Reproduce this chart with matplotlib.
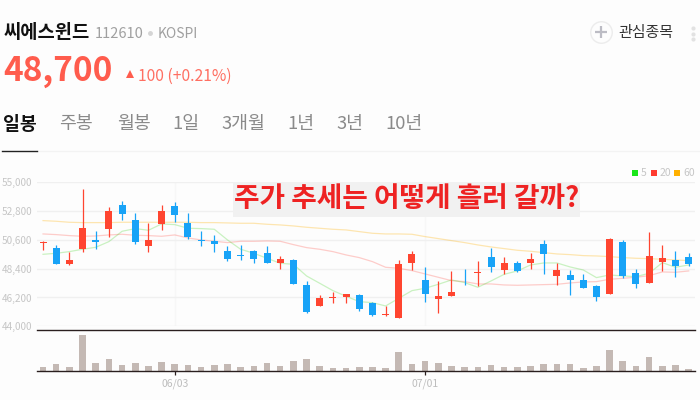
#
# Daily candle chart with moving averages and volume
#
import numpy as np
import matplotlib
matplotlib.use('Agg')
import matplotlib.pyplot as plt

plt.rcParams['font.family'] = ['Noto Sans CJK KR', 'DejaVu Sans']

open_price = [50350, 50000, 48750, 49900, 50600, 51450, 53300, 52100, 50150, 51850,
              53200, 51900, 50600, 50500, 49750, 49450, 49750, 49600, 48850, 49050,
              47150, 45550, 46150, 46250, 46400, 45750, 44850, 44650, 48850, 47550,
              46100, 46300, 47550, 48050, 49300, 48300, 48850, 48850, 50300, 47850,
              47900, 47550, 47050, 46500, 50450, 48100, 47300, 48900, 49100, 49300]
high_price = [50500, 50200, 49700, 54500, 51300, 53100, 53600, 52650, 51900, 53300,
              53500, 52650, 51300, 51000, 50150, 50200, 49850, 50150, 49400, 49150,
              47450, 46400, 46650, 46450, 46450, 45850, 45550, 49050, 49750, 48550,
              47450, 48250, 48400, 48950, 50000, 49300, 49000, 49600, 50600, 48850,
              48300, 48000, 47150, 50750, 50600, 48400, 51200, 50200, 49750, 49600]
low_price = [49800, 48750, 48700, 49650, 49900, 50800, 52100, 50300, 49700, 51350,
             51950, 50700, 50150, 49650, 49000, 49100, 48850, 48850, 48400, 47200,
             45000, 45550, 45750, 45750, 45200, 44800, 44750, 44650, 48300, 45850,
             45000, 46300, 47150, 47100, 48150, 48000, 48150, 48400, 48000, 47150,
             46400, 46950, 45950, 46450, 47700, 46950, 47300, 48250, 47750, 48600]
close_price = [50400, 48750, 49050, 51500, 50450, 52800, 52550, 50450, 50600, 52800,
               52500, 50850, 50500, 50250, 49150, 49350, 49150, 48850, 49150, 47200,
               45100, 46150, 46200, 46450, 45300, 44850, 44900, 48750, 49500, 46450,
               46300, 46600, 47500, 48100, 48500, 48850, 48250, 49150, 49550, 48300,
               47550, 46950, 46250, 50700, 47850, 47250, 49350, 49200, 48600, 48750]

ma5 = [49500, 49578, 49705, 49884, 50036, 50469, 51259, 51463, 51335, 51819,
       51768, 51488, 51463, 51412, 50597, 49884, 49578, 49196, 48814, 48737,
       47846, 47286, 46725, 46292, 45885, 45808, 45554, 46139, 46725, 46904,
       47209, 47540, 47337, 46980, 47464, 47973, 48228, 48686, 48839, 48839,
       48534, 48304, 47719, 47922, 47846, 47795, 48050, 48865, 48508, 48686]
ma20 = [51055, 51004, 50928, 50877, 50902, 50979, 51030, 50953, 50928, 50877,
        50979, 50750, 50597, 50495, 50393, 50495, 50495, 50520, 50495, 50240,
        50011, 49884, 49705, 49451, 49247, 48941, 48508, 48432, 48253, 47999,
        47744, 47489, 47413, 47235, 47235, 47158, 47133, 47158, 47184, 47209,
        47311, 47388, 47413, 47591, 47668, 47744, 47871, 48152, 48126, 48228]
ma60 = [52074, 52023, 51947, 51921, 51921, 51921, 51947, 51947, 51947, 51947,
        51947, 51947, 51921, 51921, 51896, 51870, 51870, 51794, 51743, 51666,
        51565, 51488, 51412, 51361, 51233, 51106, 51055, 51055, 51030, 50851,
        50699, 50546, 50393, 50215, 50062, 49935, 49807, 49731, 49629, 49527,
        49476, 49400, 49374, 49323, 49247, 49196, 49170, 49119, 49068, 49017]

volume = [14, 22, 14, 109, 25, 36, 19, 25, 17, 28,
          21, 19, 14, 19, 21, 13, 17, 25, 17, 31,
          37, 17, 9, 9, 13, 13, 9, 58, 22, 31,
          25, 16, 13, 13, 19, 13, 13, 17, 22, 22,
          22, 9, 16, 64, 32, 17, 43, 16, 18, 6]

price_ticks = [44000, 46200, 48400, 50600, 52800, 55000]
date_ticks = [10, 29]
date_labels = ['06/03', '07/01']
tab_names = ['일봉', '주봉', '월봉', '1일', '3개월', '1년', '3년', '10년']
tab_left = [3, 59, 117, 172, 221, 287, 336, 385]

RED = '#ff4530'
BLUE = '#18a3f7'
GREY = '#c6c6c6'
BG = '#fdfdfd'
W, H = 700.0, 400.0


def px_axes(left, top, right, bottom):
    return fig.add_axes([left/W, 1 - bottom/H, (right - left)/W, (bottom - top)/H])


fig = plt.figure(figsize=(7, 4), dpi=100, facecolor=BG)
x = np.arange(len(open_price))
o = np.array(open_price)
c = np.array(close_price)
up = c >= o
colors = np.where(up, RED, BLUE)

# Price panel
ax = px_axes(36.7, 182.3, 695, 326.3)
ax.set_xlim(-0.48, 49.48)
ax.set_ylim(44000, 55000)
ax.set_facecolor('none')
ax.plot(x, ma60, color='#ffb000', alpha=0.3, lw=0.9)
ax.plot(x, ma20, color='#ff3b30', alpha=0.25, lw=0.9)
ax.plot(x, ma5, color='#30d010', alpha=0.25, lw=0.9)
ax.vlines(x, low_price, high_price, colors=colors, lw=0.9, zorder=3)
body = np.maximum(np.abs(c - o), 60)
ax.bar(x, body, bottom=np.minimum(o, c), width=0.53, color=colors, zorder=4)
ax.set_yticks(price_ticks)
ax.set_yticklabels(['{:,}'.format(p) for p in price_ticks], fontsize=7.2, color=GREY)
ax.set_xticks(date_ticks)
ax.set_xticklabels([])
ax.tick_params(length=0, pad=3)
ax.grid(True, axis='y', color='#f0f0f0', lw=1)
ax.grid(True, axis='x', color='#f7f7f7', lw=1)
ax.set_axisbelow(True)
for s in ax.spines.values():
    s.set_visible(False)

# Volume panel
ax_vol = px_axes(36.7, 330.3, 695, 371.3)
ax_vol.set_xlim(-0.48, 49.48)
ax_vol.set_ylim(0, 123)
ax_vol.set_facecolor('none')
ax_vol.bar(x, volume, width=0.5, color='#c4b9b4')
ax_vol.set_yticks([])
ax_vol.set_xticks(date_ticks)
ax_vol.set_xticklabels(date_labels, fontsize=7.5, color='#bdbdbd')
ax_vol.tick_params(axis='x', length=3, width=0.9, color='#2a1f1f', pad=2)
for side in ['left', 'right']:
    ax_vol.spines[side].set_visible(False)
for side in ['top', 'bottom']:
    ax_vol.spines[side].set_color('#2a1f1f')
    ax_vol.spines[side].set_linewidth(1)

# Page furniture in pixel coordinates
page = fig.add_axes([0, 0, 1, 1])
page.set_xlim(0, W)
page.set_ylim(H, 0)
page.axis('off')
page.patch.set_alpha(0)

page.text(4, 33, '씨에스윈드', fontsize=13.5, fontweight='bold', color='#111111', va='center')
page.text(95, 34, '112610', fontsize=10.5, color='#a0a0a0', va='center')
page.plot([150], [33], marker='o', ms=2.5, color='#d5d5d5')
page.text(158, 34, 'KOSPI', fontsize=10, color='#a0a0a0', va='center')
page.text(3, 71, '48,700', fontsize=24, fontweight='bold', color='#ff5c4d', va='center')
page.plot([129.5], [73.5], marker='^', ms=6, color='#ff5c4d', mew=0)
page.text(138, 76, '100 (+0.21%)', fontsize=11.3, color='#ff6f62', va='center')

for i, (name, left) in enumerate(zip(tab_names, tab_left)):
    page.text(left, 124, name, fontsize=13.2, va='center',
              fontweight='bold' if i == 0 else 'normal',
              color='#111111' if i == 0 else '#8a8a8a')
page.plot([37, 700], [151, 151], color='#f3f3f3', lw=1)
page.plot([2, 37], [151, 151], color='#222222', lw=1)

# Watchlist button
page.plot([601], [32], marker='o', ms=15.5, mfc='none', mec='#ececec', mew=1)
page.plot([601], [32], marker='+', ms=8, color='#bcbcc4', mew=1.6)
page.text(618, 33, '관심종목', fontsize=10.8, color='#333333', va='center')
page.plot([693, 693, 693], [28, 33.5, 39], ls='none', marker='o', ms=3, color='#e2e2e2', mew=0)

# Moving average legend
for left, col, lab in [(632, '#19e619', '5'), (651, '#ff3b30', '20'), (674, '#ffb000', '60')]:
    page.add_patch(plt.Rectangle((left, 170), 6, 6, color=col, lw=0))
    page.text(left + 9, 173, lab, fontsize=7.5, color=GREY, va='center')

# Caption across the top of the chart
page.add_patch(plt.Rectangle((233, 182), 347, 35, color='#f1f1f1', lw=0))
page.text(406.5, 199, '주가 추세는 어떻게 흘러 갈까?', fontsize=20, fontweight='bold',
          color='#ee2222', ha='center', va='center')

fig.savefig('out.png', dpi=100, facecolor=BG)
